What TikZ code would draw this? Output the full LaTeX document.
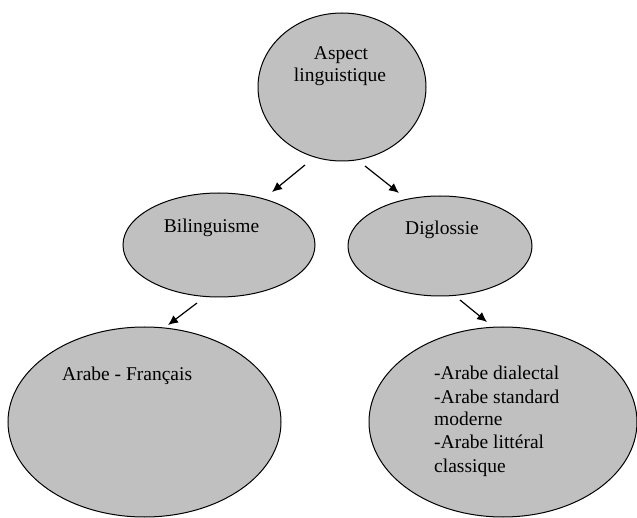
\documentclass[tikz,border=0pt]{standalone}
\usepackage{fontspec}
\setmainfont{Liberation Serif}
\usetikzlibrary{shapes.geometric,arrows.meta}
\begin{document}
\begin{tikzpicture}[x=1pt,y=-1pt,
  bubble/.style={ellipse, draw=black, line width=1pt, fill=bubblegray, inner sep=0pt},
  lbl/.style={font=\fontsize{19.5}{23}\selectfont, inner sep=0pt, text=black},
  link/.style={draw=black, line width=1.2pt, -{Latex[length=10pt,width=9pt]}}]
\definecolor{bubblegray}{HTML}{C0C0C0}
\useasboundingbox[fill=white] (0,0) rectangle (637,518);
% ellipses
\node[bubble, minimum width=168pt, minimum height=148pt] (top) at (342,87) {};
\node[bubble, minimum width=192pt, minimum height=104pt] (bil) at (219,245) {};
\node[bubble, minimum width=184pt, minimum height=100pt] (dig) at (440,246) {};
\node[bubble, minimum width=273pt, minimum height=190pt] (ar) at (144.5,422) {};
\node[bubble, minimum width=268pt, minimum height=190pt] (var) at (503,422) {};
% texts
\node[lbl, anchor=base] (t1) at (341,60) {Aspect};
\node[lbl, anchor=base] (t2) at (340,82) {linguistique};
\node[lbl, anchor=base] (tb) at (211.5,233) {Bilinguisme};
\node[lbl, anchor=base] (td) at (442,235) {Diglossie};
\node[lbl, anchor=base west] (ta) at (62,381) {Arabe - Français};
\node[lbl, anchor=base west] (v1) at (434,380) {-Arabe dialectal};
\node[lbl, anchor=base west] (v2) at (434,403) {-Arabe standard};
\node[lbl, anchor=base west] (v3) at (434,425) {moderne};
\node[lbl, anchor=base west] (v4) at (434,448) {-Arabe littéral};
\node[lbl, anchor=base west] (v5) at (434,472) {classique};
% arrow ends
\coordinate (a1s) at (305,165); \coordinate (a1e) at (272,192);
\coordinate (a2s) at (365,166); \coordinate (a2e) at (399,193);
\coordinate (a3s) at (197,303); \coordinate (a3e) at (168,325);
\coordinate (a4s) at (460,300); \coordinate (a4e) at (487,322);
\draw[link] (a1s) -- (a1e);
\draw[link] (a2s) -- (a2e);
\draw[link] (a3s) -- (a3e);
\draw[link] (a4s) -- (a4e);
\end{tikzpicture}
\end{document}
